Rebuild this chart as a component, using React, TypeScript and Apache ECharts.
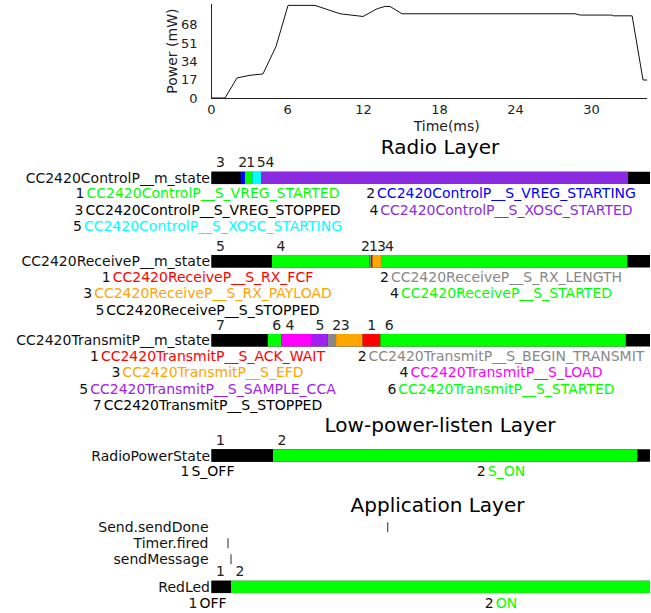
import React, { useEffect, useRef } from 'react';
import * as echarts from 'echarts';

const FONT = '"DejaVu Sans", sans-serif';

// ---------------- Power trace ----------------
const powerTime = [0, 1.07, 2.01, 3.04, 4.06, 5.09, 6.04, 8.17, 10.14, 11.96, 13.08, 13.69, 14.09, 15.04, 28.7, 29.1, 31.6, 31.7, 33.2, 34.06, 34.38];
const powerValue = [0, 0, 18.6, 21.1, 22.3, 47.8, 86, 86, 78.2, 75.7, 82.9, 85, 85, 78.2, 78.2, 77, 77, 76.3, 76.3, 16.7, 16.7];
const powerTickStep = 17;
const timeTickStep = 6;
const powerTimeMax = 34.35;
const barTimeMax = 34.6;

// ---------------- State rows ----------------
const controlLabel = 'CC2420ControlP__m_state';
const controlStateNames = ['CC2420ControlP__S_VREG_STARTED', 'CC2420ControlP__S_VREG_STARTING', 'CC2420ControlP__S_VREG_STOPPED', 'CC2420ControlP__S_XOSC_STARTED', 'CC2420ControlP__S_XOSC_STARTING'];
const controlColors = ['#00ff00', '#0000ff', '#000000', '#8a2be2', '#00ffff'];
const controlTimes = [0, 2.30, 2.64, 3.22, 3.91];
const controlStates = [3, 2, 1, 5, 4];
const controlEnd = 32.87;

const receiveLabel = 'CC2420ReceiveP__m_state';
const receiveStateNames = ['CC2420ReceiveP__S_RX_FCF', 'CC2420ReceiveP__S_RX_LENGTH', 'CC2420ReceiveP__S_RX_PAYLOAD', 'CC2420ReceiveP__S_STARTED', 'CC2420ReceiveP__S_STOPPED'];
const receiveColors = ['#ff0000', '#888888', '#ffa500', '#00ff00', '#000000'];
const receiveTimes = [0, 4.77, 12.45, 12.61, 12.69, 13.38];
const receiveStates = [5, 4, 2, 1, 3, 4];
const receiveEnd = 32.81;

const transmitLabel = 'CC2420TransmitP__m_state';
const transmitStateNames = ['CC2420TransmitP__S_ACK_WAIT', 'CC2420TransmitP__S_BEGIN_TRANSMIT', 'CC2420TransmitP__S_EFD', 'CC2420TransmitP__S_LOAD', 'CC2420TransmitP__S_SAMPLE_CCA', 'CC2420TransmitP__S_STARTED', 'CC2420TransmitP__S_STOPPED'];
const transmitColors = ['#ff0000', '#888888', '#ffa500', '#ff00ff', '#a020f0', '#00ff00', '#000000'];
const transmitTimes = [0, 4.44, 5.49, 7.85, 9.17, 9.83, 11.93, 13.32];
const transmitStates = [7, 6, 4, 5, 2, 3, 1, 6];
const transmitEnd = 32.69;

const radioLabel = 'RadioPowerState';
const radioStateNames = ['S_OFF', 'S_ON'];
const radioColors = ['#000000', '#00ff00'];
const radioTimes = [0, 4.85];
const radioStates = [1, 2];
const radioEnd = 33.6;

const ledLabel = 'RedLed';
const ledStateNames = ['OFF', 'ON'];
const ledColors = ['#000000', '#00ff00'];
const ledTimes = [0, 1.54];
const ledStates = [1, 2];
const ledEnd = 34.6;

// ---------------- Events ----------------
const eventNames = ['Send.sendDone', 'Timer.fired', 'sendMessage'];
const eventTimes = [13.9, 1.3, 1.54];

const rows = [
  { label: controlLabel, names: controlStateNames, colors: controlColors, times: controlTimes, states: controlStates, end: controlEnd, barTop: 171.7, legendTop: 193.3 },
  { label: receiveLabel, names: receiveStateNames, colors: receiveColors, times: receiveTimes, states: receiveStates, end: receiveEnd, barTop: 255, legendTop: 276.7 },
  { label: transmitLabel, names: transmitStateNames, colors: transmitColors, times: transmitTimes, states: transmitStates, end: transmitEnd, barTop: 334, legendTop: 355.7 },
  { label: radioLabel, names: radioStateNames, colors: radioColors, times: radioTimes, states: radioStates, end: radioEnd, barTop: 449.3, legendTop: 471 },
  { label: ledLabel, names: ledStateNames, colors: ledColors, times: ledTimes, states: ledStates, end: ledEnd, barTop: 580.7, legendTop: 602.7 },
];

const LEFT = 211.5;
const BAR_H = 12.4;
const LEG_STEP = 16.4;

function spread(desired: number[], gap: number, shift: number): number[] {
  const groups: number[][] = [];
  const pos = (g: number[]) => {
    const m = g.reduce((a, b) => a + b, 0) / g.length - (g.length > 1 ? shift : 0);
    return g.map((_, k) => m + (k - (g.length - 1) / 2) * gap);
  };
  for (const d of desired) {
    groups.push([d]);
    while (groups.length > 1) {
      const a = groups[groups.length - 2];
      const b = groups[groups.length - 1];
      const pa = pos(a);
      const pb = pos(b);
      if (pa[pa.length - 1] + gap > pb[0]) {
        groups.splice(groups.length - 2, 2, a.concat(b));
      } else break;
    }
  }
  return groups.flatMap(pos);
}

export default function App() {
  const ref = useRef<HTMLDivElement>(null);
  useEffect(() => {
    const chart = echarts.init(ref.current!, null, { renderer: 'svg', width: 651, height: 613 });
    const axisColor = '#222';
    const grid: any[] = [];
    const xAxis: any[] = [];
    const yAxis: any[] = [];
    const series: any[] = [];

    grid.push({ left: LEFT, top: 4.3, width: 435.2, height: 93.7 });
    xAxis.push({
      type: 'value', gridIndex: 0, min: 0, max: powerTimeMax, interval: timeTickStep,
      axisLine: { show: true, lineStyle: { color: axisColor, width: 1 } },
      axisTick: { show: false }, splitLine: { show: false },
      axisLabel: { margin: 5, fontSize: 13, fontFamily: FONT, color: axisColor, showMaxLabel: false,
        formatter: (v: number) => (v % timeTickStep === 0 ? String(v) : '') },
    });
    yAxis.push({
      type: 'value', gridIndex: 0, min: 0, max: 87, interval: powerTickStep,
      name: 'Power (mW)', nameLocation: 'middle', nameGap: 33, nameMoveOverlap: false,
      nameTextStyle: { fontSize: 14, fontFamily: FONT, color: axisColor },
      axisLine: { show: true, lineStyle: { color: axisColor, width: 1 } },
      axisTick: { show: false }, splitLine: { show: false },
      axisLabel: { margin: 14, fontSize: 13, fontFamily: FONT, color: axisColor, showMaxLabel: false,
        formatter: (v: number) => (v % powerTickStep === 0 && v <= 70 ? String(v) : '') },
    });
    series.push({
      type: 'line', xAxisIndex: 0, yAxisIndex: 0, symbol: 'none', silent: true,
      data: powerTime.map((t, i) => [t, powerValue[i]]),
      lineStyle: { color: '#111', width: 1 },
    });

    rows.forEach((row, r) => {
      const gi = r + 1;
      grid.push({ left: LEFT, top: row.barTop, width: 651 - LEFT - 1, height: BAR_H, show: true, backgroundColor: '#000', borderWidth: 0 });
      xAxis.push({ type: 'value', gridIndex: gi, min: 0, max: barTimeMax, show: false });
      yAxis.push({
        type: 'category', gridIndex: gi, data: [row.label],
        axisLine: { show: false }, axisTick: { show: false }, splitLine: { show: false },
        axisLabel: { margin: 1.5, fontSize: 14, fontFamily: FONT, color: '#111' },
      });
      const segs = row.times.map((t, i) => [t, i + 1 < row.times.length ? row.times[i + 1] : row.end, row.states[i], 0]);
      series.push({
        type: 'custom', xAxisIndex: gi, yAxisIndex: gi, silent: true,
        encode: { x: [0, 1], y: 3 },
        data: segs,
        renderItem: (params: any, api: any) => {
          const s = api.value(0);
          const e = api.value(1);
          const st = api.value(2);
          const p0 = api.coord([s, 0]);
          const p1 = api.coord([e, 0]);
          const h = api.size([0, 1])[1];
          return {
            type: 'rect',
            shape: { x: p0[0], y: p0[1] - h / 2, width: p1[0] - p0[0], height: h },
            style: { fill: row.colors[st - 1] },
          };
        },
      });
    });

    const evGi = rows.length + 1;
    grid.push({ left: LEFT, top: 519.3, width: 651 - LEFT - 1, height: 48 });
    xAxis.push({ type: 'value', gridIndex: evGi, min: 0, max: barTimeMax, show: false });
    yAxis.push({
      type: 'category', gridIndex: evGi, data: eventNames, inverse: true,
      axisLine: { show: false }, axisTick: { show: false }, splitLine: { show: false },
      axisLabel: { margin: 3, interval: 0, fontSize: 14, fontFamily: FONT, color: '#111' },
    });
    series.push({
      type: 'scatter', xAxisIndex: evGi, yAxisIndex: evGi, silent: true,
      symbol: 'rect', symbolSize: [1.2, 10],
      itemStyle: { color: '#222' },
      data: eventNames.map((n, i) => [eventTimes[i], n]),
    });

    chart.setOption({ animation: false, backgroundColor: '#fff', grid, xAxis, yAxis, series });

    const graphic: any[] = [];
    const titleStyle = (text: string) => ({ text, font: `20px ${FONT}`, fill: '#000', align: 'center', verticalAlign: 'middle' });
    graphic.push({ type: 'text', x: 440, y: 146.7, style: titleStyle('Radio Layer') });
    graphic.push({ type: 'text', x: 440, y: 425, style: titleStyle('Low-power-listen Layer') });
    graphic.push({ type: 'text', x: 437.5, y: 505, style: titleStyle('Application Layer') });
    graphic.push({ type: 'text', x: 446.7, y: 125.5, style: { text: 'Time(ms)', font: `14px ${FONT}`, fill: axisColor, align: 'center', verticalAlign: 'middle' } });

    rows.forEach((row, r) => {
      const gi = r + 1;
      const desired = row.times.map((t) => (chart.convertToPixel({ xAxisIndex: gi } as any, t) as any as number) + 9);
      const placed = spread(desired, 8, 5);
      placed.forEach((x, i) => {
        graphic.push({ type: 'text', x, y: row.barTop - 9.5, style: { text: String(row.states[i]), font: `14px ${FONT}`, fill: '#222', align: 'center', verticalAlign: 'middle' } });
      });
      row.names.forEach((nm, k) => {
        const col = k % 2;
        const line = Math.floor(k / 2);
        graphic.push({
          type: 'text', x: col === 0 ? 207.5 : 501, y: row.legendTop + line * LEG_STEP,
          style: {
            text: `{n|${k + 1}}{l|${nm}}`,
            font: `14px ${FONT}`, align: 'center', verticalAlign: 'middle',
            rich: {
              n: { fill: '#111', fontSize: 14, fontFamily: FONT, padding: [0, 2, 0, 0] },
              l: { fill: row.colors[k], fontSize: 14, fontFamily: FONT },
            },
          },
        });
      });
    });

    chart.setOption({ graphic });
    return () => chart.dispose();
  }, []);
  return <div ref={ref} style={{ position: 'absolute', left: 0, top: 0, width: 651, height: 613 }} />;
}
